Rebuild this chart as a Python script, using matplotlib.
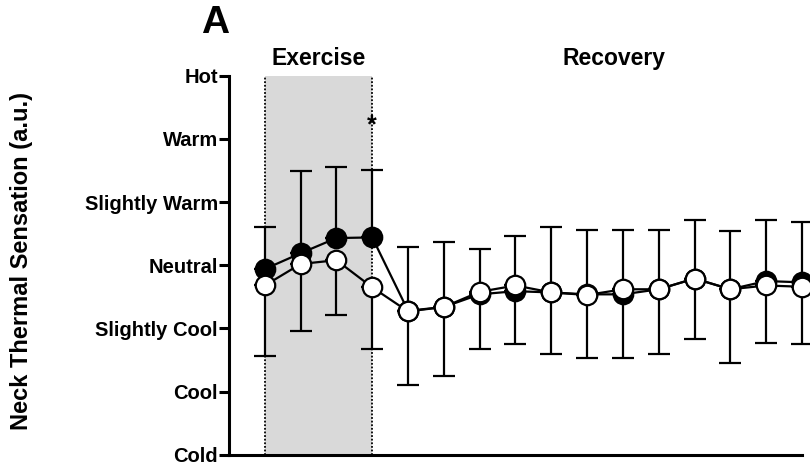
import numpy as np
import matplotlib
matplotlib.use("Agg")
import matplotlib.pyplot as plt

plt.rcParams['font.family'] = ['Liberation Sans', 'DejaVu Sans']
plt.rcParams['font.weight'] = 'bold'

# Data (thermal sensation scale: Cold=-3 ... Hot=3)
tick_labels = ["Cold", "Cool", "Slightly Cool", "Neutral", "Slightly Warm", "Warm", "Hot"]
tick_values = [-3, -2, -1, 0, 1, 2, 3]
timepoints = list(range(16))  # 0-3 exercise, 4-15 recovery

filled_mean = [-0.06, 0.19, 0.43, 0.44, -0.72, -0.66, -0.46, -0.41, -0.43, -0.46,
               -0.46, -0.38, -0.21, -0.38, -0.25, -0.27]
filled_err_up = [0.67, 1.30, 1.12, 1.07, 1.01, 1.02, 0.71, 0.87, 1.03, 1.02,
                 1.02, 0.93, 0.93, 0.92, 0.96, 0.95]
open_mean = [-0.32, 0.02, 0.08, -0.35, -0.73, -0.66, -0.42, -0.32, -0.43, -0.47,
             -0.38, -0.38, -0.21, -0.38, -0.32, -0.34]
open_err_down = [1.12, 1.06, 0.87, 0.98, 1.17, 1.09, 0.90, 0.92, 0.97, 0.99,
                 1.09, 1.03, 0.95, 1.16, 0.91, 0.90]

exercise_span = (0, 3)
asterisk_point = 3

fig = plt.figure(figsize=(8.1, 4.74), dpi=100)
ax = fig.add_axes([0.2827, 0.0401, 0.9901 - 0.2827, 0.8407 - 0.0401])

x = np.array(timepoints)
fm = np.array(filled_mean)
om = np.array(open_mean)
zeros = np.zeros_like(fm)

# Exercise shading
ax.axvspan(exercise_span[0], exercise_span[1], color='#d9d9d9', zorder=0, lw=0)
for xv in exercise_span:
    ax.axvline(xv, color='black', ls=(0, (1, 1)), lw=1.3, zorder=1)

# Filled series
ax.errorbar(x, fm, yerr=[zeros, np.array(filled_err_up)], fmt='none',
            ecolor='black', elinewidth=1.6, capsize=8, capthick=1.6, zorder=2, clip_on=False)
ax.plot(x, fm, '-o', color='black', lw=1.6, ms=14, mfc='black', mec='black', mew=1.6,
        zorder=3, clip_on=False)

# Open series
ax.errorbar(x, om, yerr=[np.array(open_err_down), zeros], fmt='none',
            ecolor='black', elinewidth=1.6, capsize=8, capthick=1.6, zorder=4, clip_on=False)
ax.plot(x, om, '-o', color='black', lw=1.6, ms=14, mfc='white', mec='black', mew=1.6,
        zorder=5, clip_on=False)

ax.text(asterisk_point, 2.22, "*", ha='center', va='center', fontsize=18, fontweight='bold')

ax.set_xlim(-1, 15)
ax.set_ylim(-3, 3)
ax.set_yticks(tick_values)
ax.set_yticklabels(tick_labels, fontsize=14.5, fontweight='bold')
ax.set_xticks([])
ax.tick_params(axis='y', direction='out', length=7, width=2.2, pad=1)

for s in ['top', 'right']:
    ax.spines[s].set_visible(False)
for s in ['left', 'bottom']:
    ax.spines[s].set_linewidth(2.2)

ax.set_ylabel("Neck Thermal Sensation (a.u.)", fontsize=17, fontweight='bold', labelpad=0)
ax.yaxis.set_label_coords(-0.342, 0.512)

ax.text(1.5, 1.046, "Exercise", transform=ax.get_xaxis_transform(), ha='center', va='center',
        fontsize=16.5, fontweight='bold')
ax.text(9.75, 1.046, "Recovery", transform=ax.get_xaxis_transform(), ha='center', va='center',
        fontsize=16.5, fontweight='bold')

fig.text(215 / 810, 1 - 23 / 474, "A", ha='center', va='center', fontsize=28, fontweight='bold')

fig.savefig("out.png", dpi=100)
